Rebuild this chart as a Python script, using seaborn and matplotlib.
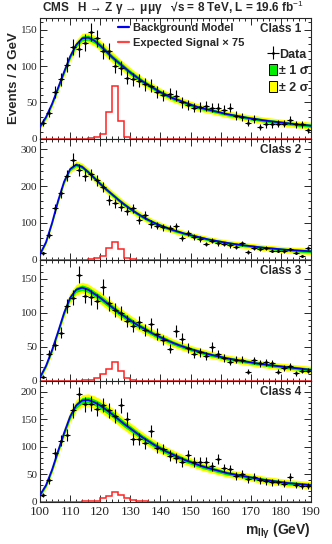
import numpy as np
import seaborn as sns
import matplotlib
matplotlib.use('Agg')
import matplotlib.pyplot as plt
from matplotlib.ticker import MultipleLocator
from matplotlib.lines import Line2D
from matplotlib.patches import Patch

# bin centres of the data (2 GeV bins) and the grid of the fitted model
mass_centres = np.arange(101, 190, 2)
bin_edges = np.arange(100, 191, 2)
model_mass = np.arange(100, 191, 2)
sigma_knots = np.arange(100, 191, 10)

class_names = ['Class 1', 'Class 2', 'Class 3', 'Class 4']

data_c1 = [22, 36, 64, 82, 102, 126, 124, 132, 147, 138, 120, 120, 100, 97, 84,
           82, 80, 75, 73, 64, 60, 62, 59, 50, 46, 43, 44, 45, 43, 43,
           40, 43, 32, 30, 22, 27, 16, 20, 20, 21, 21, 26, 20, 20, 12]
data_c2 = [18, 68, 140, 182, 228, 272, 243, 228, 232, 216, 198, 162, 153, 144, 133,
           140, 108, 122, 97, 93, 88, 86, 91, 59, 72, 61, 57, 43, 52, 45,
           43, 39, 34, 45, 21, 33, 28, 33, 25, 25, 23, 28, 19, 10, 32]
data_c3 = [6, 39, 52, 71, 110, 122, 156, 125, 123, 117, 138, 114, 104, 100, 88,
           80, 86, 75, 83, 69, 60, 47, 73, 62, 48, 40, 42, 36, 50, 39,
           34, 28, 31, 31, 13, 30, 26, 27, 26, 13, 19, 21, 11, 15, 15]
data_c4 = [12, 39, 89, 111, 121, 166, 195, 177, 178, 168, 176, 166, 156, 175, 150,
           114, 114, 106, 129, 98, 96, 84, 79, 72, 85, 72, 73, 72, 64, 78,
           61, 59, 47, 51, 41, 45, 39, 37, 35, 36, 33, 45, 30, 28, 28]

model_c1 = [17, 30, 48, 70, 92, 113, 129, 138, 139, 135, 128, 120, 112, 105, 98,
            91, 85, 79, 74, 69, 64, 60, 56, 53, 50, 47, 44, 42, 40, 38,
            36, 34, 32.5, 31, 29.5, 28, 27, 25.5, 24.5, 23.5, 22.5, 21.5, 20.5, 19.5, 19, 18]
model_c2 = [15, 48, 100, 160, 212, 246, 258, 252, 238, 222, 206, 191, 177, 163, 150,
            138, 127, 117, 108, 100, 93, 87, 81, 76, 71, 67, 63, 59, 55, 52,
            49, 46, 43.5, 41, 39, 37, 35, 33, 31.5, 30, 28.5, 27, 26, 25, 24, 23]
model_c3 = [5, 22, 45, 72, 100, 122, 134, 137, 134, 128, 122, 115, 108, 101, 95,
            89, 83, 78, 73, 68, 64, 60, 56, 52.5, 49.5, 46.5, 44, 41.5, 39, 37,
            35, 33, 31.5, 30, 28.5, 27, 25.5, 24.5, 23, 22, 21, 20, 19, 18, 17, 16]
model_c4 = [12, 30, 58, 92, 125, 155, 175, 184, 185, 181, 175, 167, 159, 150, 141,
            133, 125, 117, 110, 103, 97, 91, 86, 81, 76, 72, 68, 64, 61, 58,
            55, 52, 50, 48, 46, 44, 42, 40, 38.5, 37, 35.5, 34, 33, 32, 31, 30]

# one sigma half-width of the model band, read every 10 GeV
sigma_c1 = [2.0, 3.2, 3.8, 3.3, 2.8, 2.5, 2.3, 2.3, 2.3, 2.4]
sigma_c2 = [3.0, 5.0, 5.5, 5.0, 4.5, 4.0, 4.0, 4.0, 4.0, 4.5]
sigma_c3 = [2.0, 3.8, 4.4, 3.8, 3.2, 2.8, 2.6, 2.5, 2.5, 2.6]
sigma_c4 = [2.5, 5.0, 6.0, 5.2, 4.5, 4.0, 3.6, 3.4, 3.3, 3.3]

# expected signal x 75, per 2 GeV bin
signal_c1 = [0, 0, 0, 0, 0, 0, 0.2, 0.5, 1.2, 3, 7, 37, 73, 25, 3,
             0.5, 0.2, 0, 0, 0, 0, 0, 0, 0, 0, 0, 0, 0, 0, 0,
             0, 0, 0, 0, 0, 0, 0, 0, 0, 0, 0, 0, 0, 0, 0]
signal_c2 = [0, 0, 0, 0, 0, 0, 0, 0.3, 1, 4, 11, 33, 49, 30, 4,
             1, 0.3, 0, 0, 0, 0, 0, 0, 0, 0, 0, 0, 0, 0, 0,
             0, 0, 0, 0, 0, 0, 0, 0, 0, 0, 0, 0, 0, 0, 0]
signal_c3 = [0, 0, 0, 0, 0, 0, 0, 0.5, 1.5, 4, 10, 18, 28, 14, 4,
             1, 0.3, 0, 0, 0, 0, 0, 0, 0, 0, 0, 0, 0, 0, 0,
             0, 0, 0, 0, 0, 0, 0, 0, 0, 0, 0, 0, 0, 0, 0]
signal_c4 = [0, 0, 0, 0, 0, 0, 0, 0.5, 1, 2, 6, 11, 17, 12, 6,
             2.5, 1, 0.4, 0, 0, 0, 0, 0, 0, 0, 0, 0, 0, 0, 0,
             0, 0, 0, 0, 0, 0, 0, 0, 0, 0, 0, 0, 0, 0, 0]

y_max = [166, 328, 178, 220]
y_major = [50, 100, 50, 50]
y_minor = [10, 20, 10, 10]

datas = [data_c1, data_c2, data_c3, data_c4]
models = [model_c1, model_c2, model_c3, model_c4]
sigmas = [sigma_c1, sigma_c2, sigma_c3, sigma_c4]
signals = [signal_c1, signal_c2, signal_c3, signal_c4]

sns.set_style('ticks')
plt.rcParams['font.family'] = ['Liberation Serif', 'DejaVu Serif']
plt.rcParams['mathtext.fontset'] = 'custom'
plt.rcParams['mathtext.rm'] = 'Liberation Sans'
plt.rcParams['mathtext.bf'] = 'Liberation Sans:bold'
plt.rcParams['mathtext.it'] = 'Liberation Sans:italic'
sans_bold = dict(family=['Liberation Sans', 'DejaVu Sans'], weight='bold')

fig, axes = plt.subplots(4, 1, figsize=(3.32, 5.44), dpi=100, sharex=True)
fig.subplots_adjust(left=0.1205, right=0.937, top=0.967, bottom=0.0778, hspace=0)

for i, ax in enumerate(axes):
    model = np.array(models[i])
    sig = np.interp(model_mass, sigma_knots, sigmas[i])
    ax.fill_between(model_mass, model - 2 * sig, model + 2 * sig, color='#ffff00', lw=0, zorder=1)
    ax.fill_between(model_mass, model - sig, model + sig, color='#00ee00', lw=0, zorder=2)
    sns.lineplot(x=model_mass, y=model, ax=ax, color='#0000ee', lw=1.3, zorder=3)
    ax.stairs(signals[i], bin_edges, color='#ff2222', lw=1.1, zorder=2)
    d = np.array(datas[i])
    ax.errorbar(mass_centres, d, xerr=1, yerr=np.sqrt(d), fmt='.', ms=2.2,
                color='black', elinewidth=0.8, capsize=0, zorder=4)

    ax.set_xlim(100, 190)
    ax.set_ylim(0, y_max[i])
    ax.xaxis.set_major_locator(MultipleLocator(10))
    ax.xaxis.set_minor_locator(MultipleLocator(2))
    ax.yaxis.set_major_locator(MultipleLocator(y_major[i]))
    ax.yaxis.set_minor_locator(MultipleLocator(y_minor[i]))
    ax.tick_params(which='both', direction='in', top=True, right=True, width=0.7)
    ax.tick_params(which='major', length=5)
    ax.tick_params(which='minor', length=2.5)
    ax.tick_params(axis='x', pad=3, labelsize=9.5)
    ax.tick_params(axis='y', pad=2, labelsize=8)
    for s in ax.spines.values():
        s.set_linewidth(0.8)
    ax.set_ylabel('')
    ax.text(0.965, 0.955, class_names[i], transform=ax.transAxes, ha='right', va='top',
            fontsize=8.5, **sans_bold)

ax0 = axes[0]
h_bkg = Line2D([], [], color='#0000ee', lw=1.6)
h_sig = Line2D([], [], color='#ff4444', lw=1.6)
leg1 = ax0.legend([h_bkg, h_sig], ['Background Model', 'Expected Signal \u00d7 75'],
                  loc='upper left', bbox_to_anchor=(0.28, 0.975), frameon=False,
                  prop=dict(family='Liberation Sans', weight='bold', size=8),
                  handlelength=1.0, handletextpad=0.3, labelspacing=0.4,
                  borderpad=0.2, borderaxespad=0)
ax0.add_artist(leg1)

h_data = ax0.errorbar([], [], xerr=[], yerr=[], fmt='.', ms=2, color='black', elinewidth=0.8)
h_1s = Patch(facecolor='#00ee00', edgecolor='black', lw=0.7)
h_2s = Patch(facecolor='#ffff00', edgecolor='black', lw=0.7)
ax0.legend([h_data, h_1s, h_2s], ['Data', '\u00b1 1 \u03c3', '\u00b1 2 \u03c3'],
           loc='upper right', bbox_to_anchor=(1.0, 0.775), frameon=False,
           prop=dict(family=['Liberation Sans', 'DejaVu Sans'], weight='bold', size=9),
           handlelength=0.6, handleheight=1.0, handletextpad=0.2, labelspacing=0.3,
           borderpad=0.2, borderaxespad=0)

ax0.set_ylabel('Events / 2 GeV', fontsize=9.5, **sans_bold)
ax0.yaxis.set_label_coords(-0.075, 0.5)
axes[3].set_xlabel(r'm$_{\mathbf{ll\gamma}}$ (GeV)', fontsize=10, labelpad=3,
                   loc='right', **sans_bold)
fig.text(0.52, 0.985, 'CMS   H \u2192 Z \u03b3 \u2192 \u03bc\u03bc\u03b3   \u221as = 8 TeV, L = 19.6 fb$^{-1}$',
         ha='center', va='center', fontsize=8.5, **sans_bold)

fig.savefig('out.png', dpi=100)
